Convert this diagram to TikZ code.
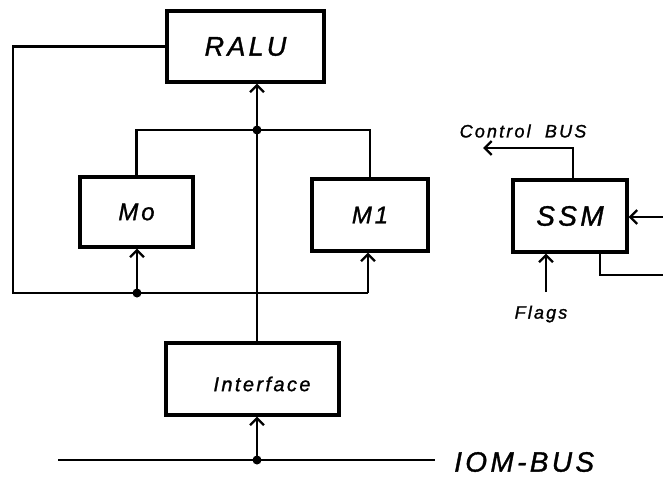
\documentclass[tikz,border=0pt]{standalone}
\usepackage{fontspec}
\newfontfamily\lbl[LetterSpace=12,FakeBold=1.2]{Liberation Sans}
\usetikzlibrary{arrows.meta}
\begin{document}
\begin{tikzpicture}[x=1pt,y=-1pt,
  blk/.style={draw,line width=3.2pt,inner sep=0pt,font=\lbl\itshape},
  wire/.style={line width=2.3pt},
  arr/.style={wire,-{Straight Barb[length=7pt,width=14pt]}},
  dot/.style={circle,fill,inner sep=0pt,minimum size=9pt}]
\useasboundingbox (0,0) rectangle (663,476);
% boxes
\node[blk,minimum width=157pt,minimum height=71pt,font=\lbl\itshape\fontsize{27}{30}\selectfont] (ralu) at (245.5,46.5) {RALU};
\node[blk,minimum width=113pt,minimum height=70pt,font=\lbl\itshape\fontsize{24}{28}\selectfont] (mo) at (136.5,212) {Mo};
\node[blk,minimum width=116pt,minimum height=72pt,font=\lbl\itshape\fontsize{24}{28}\selectfont] (m1) at (370,215) {M1};
\node[blk,minimum width=173pt,minimum height=72pt] (iface) at (252.5,379) {};
\node[font=\lbl\itshape\fontsize{20}{24}\selectfont] (ifacetext) at (262,384) {Interface};
\node[blk,minimum width=114pt,minimum height=72pt,font=\lbl\itshape\fontsize{28}{32}\selectfont] (ssm) at (570,216) {SSM};
% labels
\node[font=\lbl\itshape\fontsize{18}{22}\selectfont] (cbus) at (523,131) {Control\ \ BUS};
\node[font=\lbl\itshape\fontsize{18}{22}\selectfont] (flags) at (541,314) {Flags};
% coordinates
\coordinate (jt) at (257,130);
\coordinate (bl) at (13,293);
\coordinate (jm) at (137,293);
\coordinate (br) at (368,293);
\coordinate (busL) at (58,460);
\coordinate (busR) at (435,460);
\coordinate (jb) at (257,460);
\coordinate (cb) at (483,148);
\coordinate (rin) at (663,217);
\coordinate (rout) at (663,275);
\coordinate (fl) at (546,292);
\node[anchor=west,font=\lbl\itshape\fontsize{28}{32}\selectfont,inner sep=0pt] (iom) at (454,462) {IOM-BUS};
% feedback loop
\draw[wire] (ralu.west) -| (bl) -- (br);
\draw[arr] (br) -- (br |- m1.south);
\draw[arr] (jm) -- (jm |- mo.south);
\node[dot] (djm) at (jm) {};
% central bus
\draw[arr] (jt |- iface.north) -- (jt |- ralu.south);
\draw[wire] (mo.north) |- (jt) -| (m1.north);
\node[dot] (djt) at (jt) {};
% IOM bus
\draw[wire] (busL) -- (busR);
\draw[arr] (jb) -- (jb |- iface.south);
\node[dot] (djb) at (jb) {};
% SSM
\draw[arr] ([xshift=3pt]ssm.north) |- (cb);
\draw[arr] (rin) -- (rin -| ssm.east);
\draw[wire] ([xshift=30pt]ssm.south) |- (rout);
\draw[arr] (fl) -- (fl |- ssm.south);
\end{tikzpicture}
\end{document}
